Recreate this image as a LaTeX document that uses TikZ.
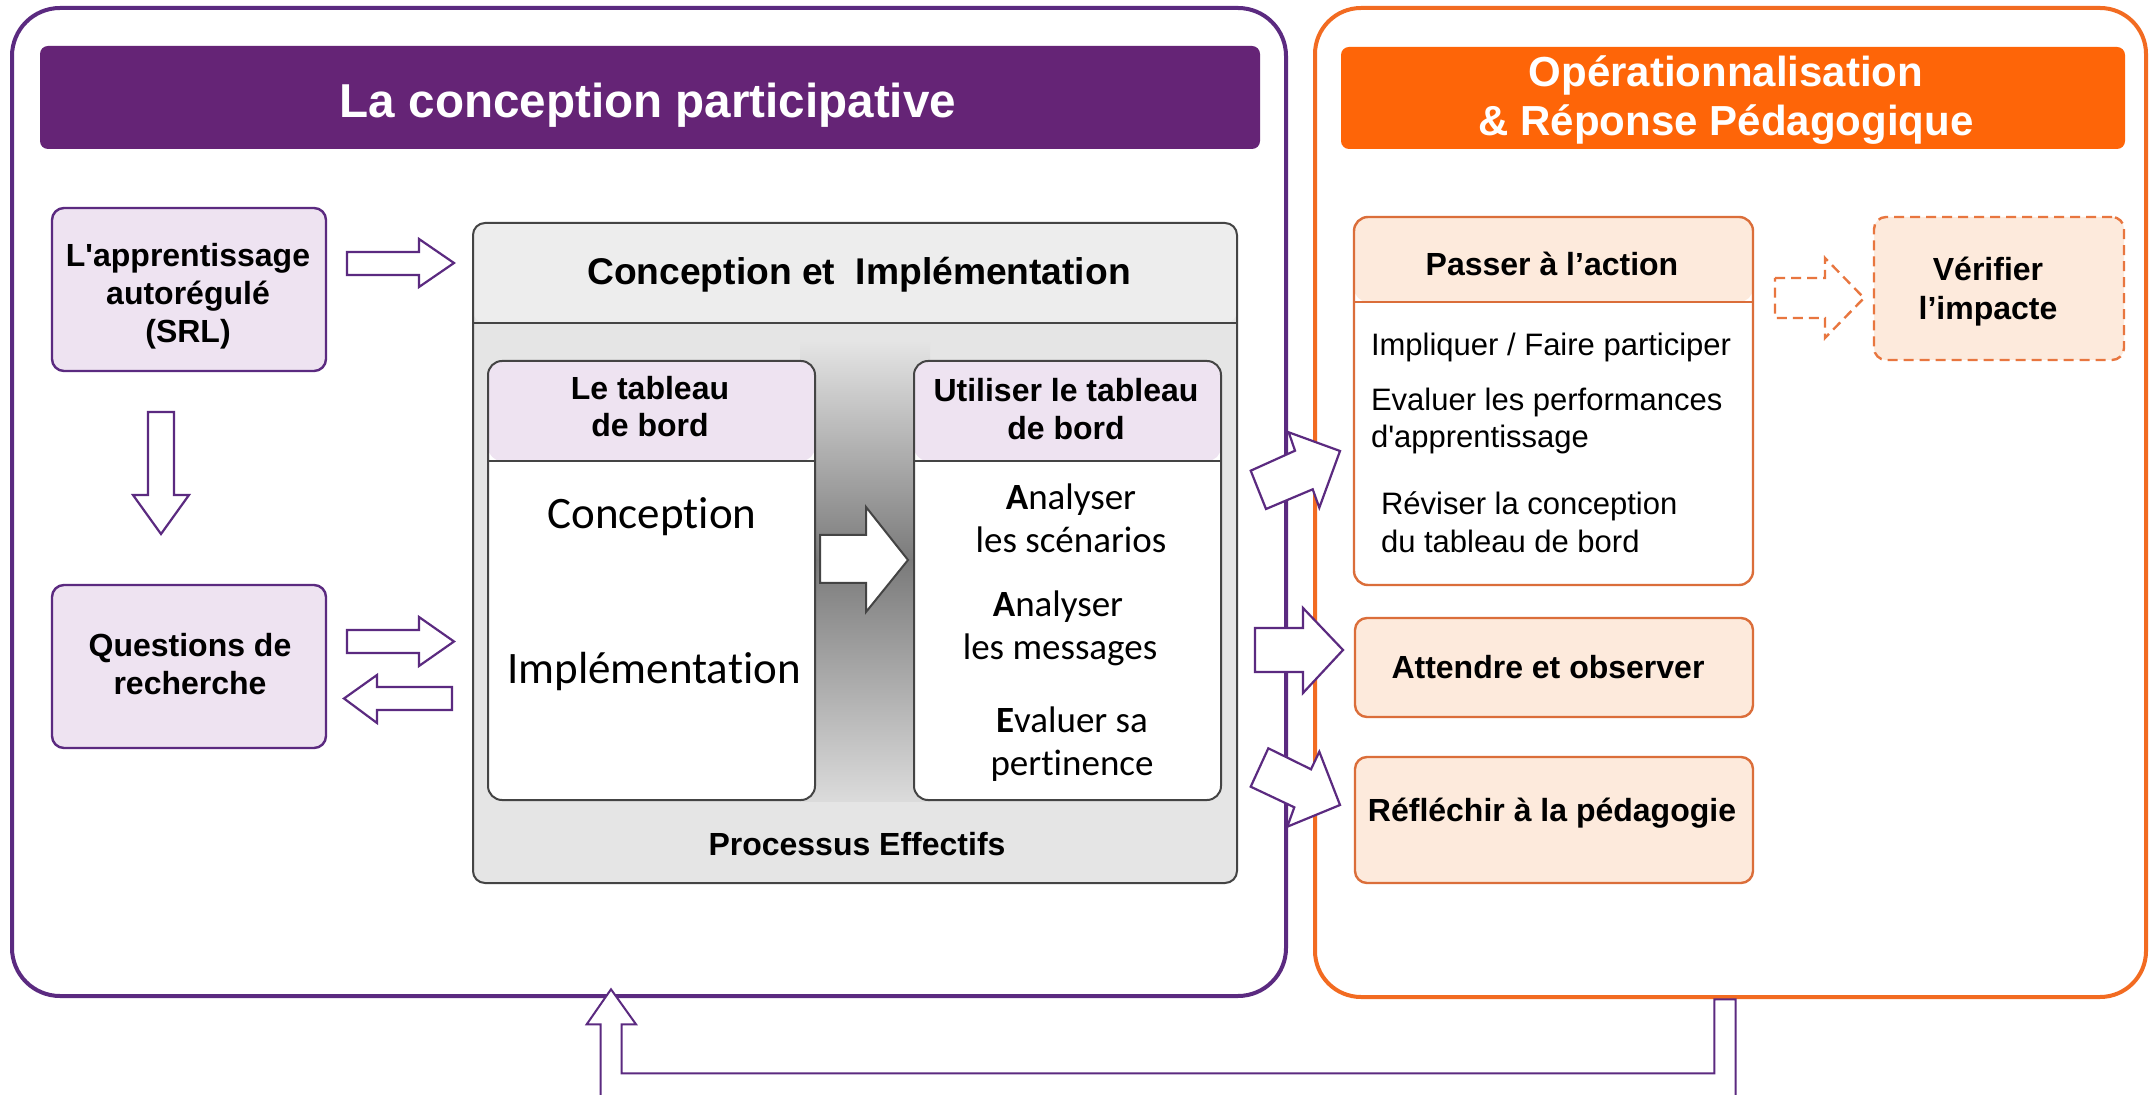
\documentclass[tikz,border=0pt]{standalone}
\usepackage{fontspec}
\setmainfont{Liberation Sans}
\newfontfamily\ars{Liberation Sans}
\newfontfamily\car{Carlito}[Ligatures=NoCommon]
\definecolor{purp}{HTML}{5B2A80}
\definecolor{purphdr}{HTML}{652476}
\definecolor{lpurp}{HTML}{EEE3F1}
\definecolor{orng}{HTML}{F26B21}
\definecolor{orhdr}{HTML}{FE6508}
\definecolor{peach}{HTML}{FDEADC}
\definecolor{peachln}{HTML}{DB6E3A}
\definecolor{dashor}{HTML}{E8763F}
\definecolor{gline}{HTML}{444444}
\definecolor{ghdr}{HTML}{EDEDED}
\definecolor{gbody}{HTML}{E5E5E5}
\begin{document}
\begin{tikzpicture}[x=0.5pt,y=-0.5pt,
  sz/.style 2 args={minimum width=#1*0.5pt, minimum height=#2*0.5pt, inner sep=0pt, outer sep=0pt},
  outerP/.style={draw=purp, line width=2pt, rounded corners=24pt, fill=white},
  outerO/.style={draw=orng, line width=2pt, rounded corners=23pt, fill=white},
  hdrP/.style={fill=purphdr, rounded corners=4pt},
  hdrO/.style={fill=orhdr, rounded corners=4pt},
  pbox/.style={draw=purp, line width=1.2pt, fill=lpurp, rounded corners=6pt},
  obox/.style={draw=peachln, line width=1.2pt, fill=peach, rounded corners=6pt},
  headed/.style n args={3}{path picture={
      \fill[#2] (path picture bounding box.north west) rectangle ([yshift=-#1]path picture bounding box.north east);
      \draw[#3, line width=1.2pt] ([yshift=-#1]path picture bounding box.north west) -- ([yshift=-#1]path picture bounding box.north east);}},
  barrow/.style={draw=purp, line width=1.1pt, fill=white, line join=miter},
  t/.style={anchor=base, inner sep=0pt, outer sep=0pt},
  hb/.style={t, font=\ars\bfseries\fontsize{16pt}{19pt}\selectfont},
  rb/.style={anchor=base west, inner sep=0pt, outer sep=0pt, font=\ars\fontsize{15.5pt}{19pt}\selectfont},
  cl/.style={t, font=\car\fontsize{22.5pt}{27pt}\selectfont},
  cr/.style={t, font=\car\fontsize{18.5pt}{22pt}\selectfont}
]
\useasboundingbox (0,0) rectangle (2151,1095);
\clip (0,0) rectangle (2151,1095);
\fill[white] (0,0) rectangle (2151,1095);

% frames
\node[outerP, sz={1274}{988}] (leftframe) at (649,502) {};
\node[outerO, sz={831}{989}] (rightframe) at (1730.5,502.5) {};
\node[hdrP, sz={1220}{103}] (hp) at (650,97.5) {};
\node[hdrO, sz={784}{102}] (ho) at (1733,98) {};
\node[t, text=white, font=\ars\bfseries\fontsize{23.8pt}{28pt}\selectfont] (titleL) at (648,118) {La conception participative};
\node[t, text=white, font=\ars\bfseries\fontsize{21pt}{25pt}\selectfont] (titleR1) at (1726,87) {Opérationnalisation};
\node[t, text=white, font=\ars\bfseries\fontsize{21pt}{25pt}\selectfont] (titleR2) at (1726,136) {\& Réponse Pédagogique};

% left column
\node[pbox, sz={274}{163}] (srl) at (189,289.5) {};
\node[hb] (srlA) at (188,267) {L'apprentissage};
\node[hb] (srlB) at (188,305) {autorégulé};
\node[hb] (srlC) at (188,343) {(SRL)};
\node[pbox, sz={274}{163}] (rq) at (189,666.5) {};
\node[hb] (rqA) at (190,657) {Questions de};
\node[hb] (rqB) at (190,695) {recherche};

% central box
\node[draw=gline, line width=1pt, fill=gbody, rounded corners=6pt, sz={764}{660}, headed={50pt}{ghdr}{gline}] (ci) at (855,553) {};
\shade[top color=gbody, bottom color=black!52] (800,340) rectangle (930,561);
\shade[top color=black!52, bottom color=black!14] (800,560) rectangle (930,801);
\node[t, font=\ars\bfseries\fontsize{18.6pt}{22pt}\selectfont] (ciT) at (859,285) {Conception et~~Implémentation};
\node[hb] (pe) at (857,855) {Processus Effectifs};

\node[draw=gline, line width=1pt, fill=white, rounded corners=7pt, sz={327}{439}, headed={50pt}{lpurp}{gline}] (tb) at (651.5,580.5) {};
\node[hb] (tbA) at (650,400) {Le tableau};
\node[hb] (tbB) at (650,437) {de bord};
\node[cl] (tbC) at (652,529) {Conception};
\node[cl] (tbD) at (654,683) {Implémentation};

\node[draw=gline, line width=1pt, fill=white, rounded corners=7pt, sz={307}{439}, headed={50pt}{lpurp}{gline}] (ut) at (1067.5,580.5) {};
\node[hb] (utA) at (1066,402) {Utiliser le tableau};
\node[hb] (utB) at (1066,440) {de bord};
\node[cr] (ut1) at (1071,510) {\textbf{A}nalyser};
\node[cr] (ut2) at (1071,553) {les scénarios};
\node[cr] (ut3) at (1058,617) {\textbf{A}nalyser};
\node[cr] (ut4) at (1060,660) {les messages};
\node[cr] (ut5) at (1072,732) {\textbf{E}valuer sa};
\node[cr] (ut6) at (1072,775) {pertinence};

\draw[draw=gline, line width=1pt, fill=white, line join=miter] (820,535) -- (866,535) -- (866,507) -- (908,560) -- (866,612) -- (866,583) -- (820,583) -- cycle;

% right side
\node[draw=peachln, line width=1.2pt, fill=white, rounded corners=7pt, sz={399}{368}, headed={42.5pt}{peach}{peachln}] (pa) at (1553.5,401) {};
\node[hb] (paT) at (1552,275.5) {Passer à l’action};
\node[rb] (pa1) at (1371,356) {Impliquer / Faire participer};
\node[rb] (pa2) at (1371,411) {Evaluer les performances};
\node[rb] (pa3) at (1371,448) {d'apprentissage};
\node[rb] (pa4) at (1381,515) {Réviser la conception};
\node[rb] (pa5) at (1381,553) {du tableau de bord};

\node[obox, dash pattern=on 5pt off 3pt, draw=dashor, sz={250}{143}] (vi) at (1999,288.5) {};
\node[hb] (viA) at (1988,281) {Vérifier};
\node[hb] (viB) at (1988,319.5) {l’impacte};

\node[obox, sz={398}{99}] (ao) at (1554,667.5) {};
\node[hb] (aoT) at (1548,679) {Attendre et observer};
\node[obox, sz={398}{126}] (rp) at (1554,820) {};
\node[hb] (rpT) at (1552,821.7) {Réfléchir à la pédagogie};

% block arrows
\draw[barrow] (347,252) -- (419,252) -- (419,239) -- (454,263) -- (419,287) -- (419,275) -- (347,275) -- cycle;
\draw[barrow] (148,412) -- (174,412) -- (174,495) -- (189,495) -- (161,534) -- (133,495) -- (148,495) -- cycle;
\draw[barrow] (347,630) -- (419,630) -- (419,617) -- (454,641.5) -- (419,666) -- (419,653) -- (347,653) -- cycle;
\draw[barrow] (452,687) -- (377,687) -- (377,675) -- (344,698.5) -- (377,723) -- (377,710) -- (452,710) -- cycle;

\draw[barrow] (1250.7,470.7) -- (1295,450.7) -- (1288.7,432.3) -- (1340,451) -- (1319.3,507.7) -- (1312.7,489.3) -- (1266,509) -- cycle;
\draw[barrow] (1255,628) -- (1303,628) -- (1303,608) -- (1343,650) -- (1303,693) -- (1303,672) -- (1255,672) -- cycle;
\draw[barrow] (1268.3,748.3) -- (1311,769.3) -- (1319.3,751.7) -- (1340,805) -- (1287.3,826.7) -- (1294.3,807.3) -- (1250.7,786.7) -- cycle;

\draw[draw=dashor, line width=1.2pt, fill=white, dash pattern=on 5pt off 3pt] (1775,278) -- (1825,278) -- (1825,258) -- (1864,298) -- (1825,338) -- (1825,318) -- (1775,318) -- cycle;

% feedback arrow
\draw[barrow, line width=1pt] (600.7,1120) -- (600.7,1024.3) -- (586.7,1024.3) -- (611,989.3) -- (636,1024.3) -- (621.7,1024.3) -- (621.7,1073.3) -- (1714.3,1073.3) -- (1714.3,999.3) -- (1735.7,999.3) -- (1735.7,1120) -- cycle;
\end{tikzpicture}
\end{document}
